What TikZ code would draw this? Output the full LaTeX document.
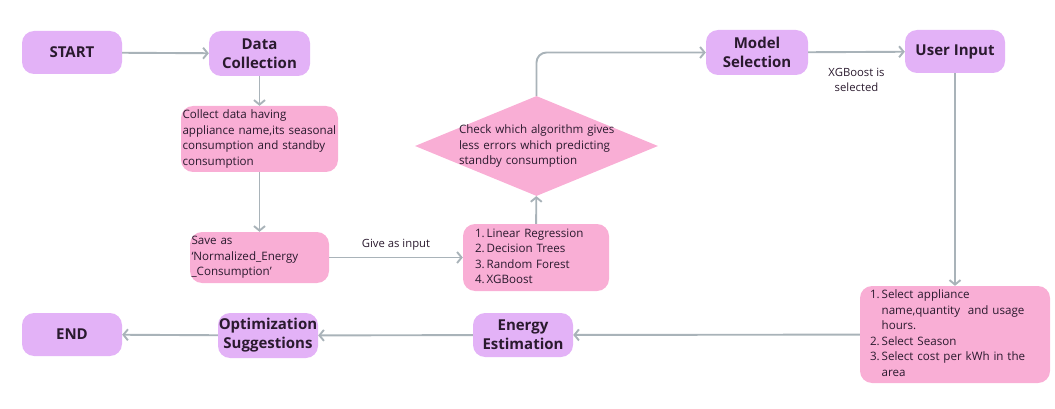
\documentclass[tikz,border=0pt]{standalone}
\usepackage{fontspec}
\setmainfont{Open Sans}
\usetikzlibrary{shapes.geometric, arrows.meta}

\definecolor{boxpurple}{HTML}{E3B2F7}
\definecolor{boxpink}{HTML}{F9AED5}
\definecolor{linegray}{HTML}{A9B3B9}
\definecolor{ink}{HTML}{2A1A2E}

\tikzset{
  stepbox/.style={fill=boxpurple, rounded corners=12pt, minimum width=100pt, minimum height=44pt,
    align=center, inner sep=0pt, text=ink, font=\fontsize{15}{19}\selectfont\bfseries},
  pinkbox/.style={fill=boxpink, rounded corners=12pt, align=left, inner ysep=0pt, text=ink,
    font=\fontsize{11.6}{15.5}\selectfont},
  flow/.style={draw=linegray, line width=1.9pt, -{Straight Barb[length=4.5pt,width=11pt]}},
  note/.style={align=center, text=ink, font=\fontsize{11.3}{15}\selectfont},
}

\begin{document}
\begin{tikzpicture}[x=1pt, y=-1pt]
			\useasboundingbox (0,0) rectangle (1055,409);
			
			% top row
			\node[stepbox, minimum height=43pt] (start) at (72,52.5) {START};
			\node[stepbox, minimum width=101pt, minimum height=45pt] (datacol) at (259.5,53.5) {Data\\Collection};
			\node[stepbox, minimum width=102pt, minimum height=45pt] (model) at (757,52.5) {Model\\Selection};
			\node[stepbox, minimum height=43pt] (user) at (955,51.5) {User Input};
			
			% data path
			\node[pinkbox, text width=154pt, inner xsep=1.5pt, minimum height=66pt] (collect) at (259.5,139)
				{Collect data having\\appliance name,its seasonal\\consumption and standby\\consumption};
			\node[pinkbox, text width=136pt, inner xsep=1.5pt, minimum height=51pt] (save) at (259.5,257.5)
				{Save as\\‘Normalized\_Energy\\\_Consumption’};
			\node[pinkbox, text width=122pt, inner xsep=12pt, minimum height=67pt] (algos) at (536,257.5)
				{\begin{tabular}{@{}l@{\,}l@{}}1.&Linear Regression\\2.&Decision Trees\\3.&Random Forest\\4.&XGBoost\end{tabular}};
			\node[diamond, fill=boxpink, inner sep=0pt, minimum width=243pt, minimum height=100pt] (check) at (536.5,146) {};
			\node[pinkbox, fill=none, text width=165pt, inner xsep=0pt, xshift=5pt] (checktext) at (check.center)
				{Check which algorithm gives\\less errors which predicting\\standby consumption};
			
			% user path
			\node[pinkbox, text width=170pt, inner xsep=10pt, minimum height=97pt] (inputs) at (955,334.5)
				{\begin{tabular}{@{}l@{\,}l@{}}1.&Select appliance\\&name,quantity\ \ and usage\\&hours.\\2.&Select Season\\3.&Select cost per kWh in the\\&area\end{tabular}};
			
			% bottom row
			\node[stepbox] (energy) at (523,335) {Energy\\Estimation};
			\node[stepbox, minimum height=45pt] (optim) at (268,335.5) {Optimization\\Suggestions};
			\node[stepbox, minimum height=43pt] (finish) at (72,334.5) {END};
			
			\draw[flow] (start) -- (datacol);
			\draw[flow] (datacol) -- (collect);
			\draw[flow] (collect) -- (save);
			\draw[flow] (save) -- node[note, above=3pt] {Give as input} (algos);
			\draw[flow] (algos) -- (check);
			\draw[flow, rounded corners=10pt] (check.north) |- (model.west);
			\draw[flow] (model) -- node[note, below=12pt] {XGBoost is\\selected} (user);
			\draw[flow] (user) -- (inputs);
			\draw[flow] (inputs) -- (energy);
			\draw[flow] (energy) -- (optim);
			\draw[flow] (optim) -- (finish);
			\end{tikzpicture}
\end{document}
